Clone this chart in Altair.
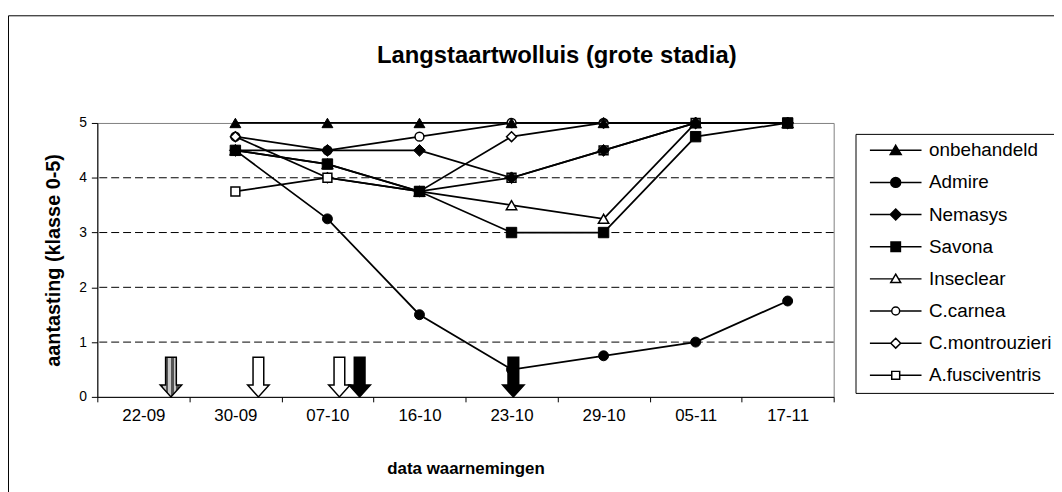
import altair as alt
import pandas as pd

# ---------------- data ----------------
dates = ["22-09", "30-09", "07-10", "16-10", "23-10", "29-10", "05-11", "17-11"]
series = ["onbehandeld", "Admire", "Nemasys", "Savona", "Inseclear",
          "C.carnea", "C.montrouzieri", "A.fusciventris"]
onbehandeld = [None, 5, 5, 5, 5, 5, 5, 5]
admire = [None, 4.5, 3.25, 1.5, 0.5, 0.75, 1.0, 1.75]
nemasys = [None, 4.5, 4.5, 4.5, 4.0, 4.5, 5, 5]
savona = [None, 4.5, 4.25, 3.75, 3.0, 3.0, 4.75, 5]
inseclear = [None, 4.5, 4.25, 3.75, 3.5, 3.25, 5, 5]
ccarnea = [None, 4.75, 4.5, 4.75, 5, 5, 5, 5]
cmontrouzieri = [None, 4.75, 4.0, 3.75, 4.75, 5, 5, 5]
afusciventris = [None, 3.75, 4.0, 3.75, 4.0, 4.5, 5, 5]
grid_values = [1, 2, 3, 4]
y_ticks = [0, 1, 2, 3, 4, 5]

# treatment arrows: observation interval, fraction within interval, kind, level
arrow_date = ["22-09", "30-09", "07-10", "07-10", "23-10"]
arrow_frac = [0.80, 0.75, 0.63, 0.85, 0.52]
arrow_kind = ["grijs", "wit", "wit", "zwart", "zwart"]
arrow_level = [0.36, 0.36, 0.36, 0.36, 0.36]

values = [onbehandeld, admire, nemasys, savona, inseclear, ccarnea, cmontrouzieri, afusciventris]

rows = []
for s, vals in zip(series, values):
    for d, v in zip(dates, vals):
        if v is not None:
            rows.append({"datum": d, "serie": s, "waarde": v})
df = pd.DataFrame(rows)

arrows = pd.DataFrame({"datum": arrow_date, "frac": arrow_frac,
                       "soort": arrow_kind, "niveau": arrow_level})

FONT = "Liberation Sans"

x_enc = alt.X("datum:N",
              scale=alt.Scale(domain=dates, type="band", paddingInner=0, paddingOuter=0),
              sort=dates,
              axis=alt.Axis(title="data waarnemingen", tickBand="extent", labelAngle=0,
                            labelFontSize=17, labelPadding=6, tickSize=5,
                            titleFontSize=17, titlePadding=37, grid=False))
y_enc = alt.Y("waarde:Q",
              scale=alt.Scale(domain=[0, 5], nice=False),
              axis=alt.Axis(title="aantasting (klasse 0-5)", values=y_ticks, tickSize=6,
                            labelFontSize=14, labelPadding=5, titleFontSize=20,
                            titlePadding=15, grid=False))

# outer frame (decoration)
frame = alt.Chart(alt.Data(values=[{}])).mark_rect(
    fillOpacity=0, stroke="black", strokeWidth=1
).encode(x=alt.value(-89.5), y=alt.value(-108), x2=alt.value(1200), y2=alt.value(600))

grid = alt.Chart(pd.DataFrame({"g": grid_values})).mark_rule(
    color="black", strokeWidth=1, strokeDash=[8, 4]
).encode(y=alt.Y("g:Q", scale=alt.Scale(domain=[0, 5], nice=False)))

lines = alt.Chart(df).mark_line(color="black", strokeWidth=1.75).encode(
    x=x_enc, y=y_enc, detail="serie:N"
)

marker_style = {
    "onbehandeld": ("triangle-up", True, 120),
    "Admire": ("circle", True, 100),
    "Nemasys": ("diamond", True, 140),
    "Savona": ("square", True, 110),
    "Inseclear": ("triangle-up", False, 110),
    "C.carnea": ("circle", False, 80),
    "C.montrouzieri": ("diamond", False, 100),
    "A.fusciventris": ("square", False, 80),
}
draw_order = ["Inseclear", "C.carnea", "C.montrouzieri", "A.fusciventris",
              "onbehandeld", "Admire", "Nemasys", "Savona"]
point_layers = []
for s in draw_order:
    shp, filled, sz = marker_style[s]
    if filled:
        mk = alt.Chart(df).mark_point(shape=shp, filled=True, fill="black", stroke="black",
                                      strokeWidth=1, size=sz, opacity=1)
    else:
        mk = alt.Chart(df).mark_point(shape=shp, filled=True, fill="white", stroke="black",
                                      strokeWidth=1.5, size=sz, opacity=1)
    point_layers.append(mk.encode(x=x_enc, y=y_enc).transform_filter(alt.datum.serie == s))

# legend (built-in) with line + marker symbols
legend_paths = [
    "M-5.2,0H5.2M0,-1L1.1,0.85L-1.1,0.85Z",
    "M-5.2,0H5.2M1,0A1,1,0,1,1,-1,0A1,1,0,1,1,1,0Z",
    "M-5.2,0H5.2M0,-1.1L1.1,0L0,1.1L-1.1,0Z",
    "M-5.2,0H5.2M-0.95,-0.95H0.95V0.95H-0.95Z",
    "M-5.2,0H-0.56M0.56,0H5.2M0,-0.95L1,0.75L-1,0.75Z",
    "M-5.2,0H-0.8M0.8,0H5.2M0.8,0A0.8,0.8,0,1,1,-0.8,0A0.8,0.8,0,1,1,0.8,0Z",
    "M-5.2,0H-1M1,0H5.2M0,-1L1,0L0,1L-1,0Z",
    "M-5.2,0H-0.8M0.8,0H5.2M-0.8,-0.8H0.8V0.8H-0.8Z",
]
legend_fills = ["black", "black", "black", "black", "white", "white", "white", "white"]
legend_strokes = ["black"] * 8
leg = alt.Legend(title=None, orient="none", legendX=764, legendY=11,
                 labelFont=FONT, labelFontSize=19, labelColor="black",
                 symbolSize=100, symbolStrokeWidth=1.5, symbolStrokeColor="black",
                 symbolOffset=24, labelOffset=24, rowPadding=12.4, padding=7,
                 strokeColor="black", fillColor="white", labelLimit=300)
legend_layer = alt.Chart(df).mark_point(filled=True, strokeWidth=1.5, opacity=1).encode(
    shape=alt.Shape("serie:N", scale=alt.Scale(domain=series, range=legend_paths), legend=leg),
    fill=alt.Fill("serie:N", scale=alt.Scale(domain=series, range=legend_fills), legend=leg),
    stroke=alt.Stroke("serie:N", scale=alt.Scale(domain=series, range=legend_strokes), legend=leg),
).transform_filter("datum.waarde > 99")

# arrows
arrow_path = "M-0.27,-1L0.27,-1L0.27,0.4L0.54,0.4L0,1L-0.54,0.4L-0.27,0.4Z"
stripes = []
n = 8
for i in range(n):
    c = "#555555" if i % 2 == 0 else "#c8c8c8"
    stripes.append({"offset": i / n, "color": c})
    stripes.append({"offset": (i + 1) / n, "color": c})
gray_fill = {"gradient": "linear", "x1": 0, "x2": 1, "y1": 0, "y2": 0, "stops": stripes}

arrow_x = alt.X("datum:N", scale=alt.Scale(domain=dates, type="band", paddingInner=0, paddingOuter=0), sort=dates)
arrow_xo = alt.XOffset("frac:Q", scale=alt.Scale(domain=[0, 1]))
arrow_y = alt.Y("niveau:Q", scale=alt.Scale(domain=[0, 5], nice=False))
arrow_layers = []
for kind, fillv in [("grijs", gray_fill), ("wit", "white"), ("zwart", "black")]:
    arrow_layers.append(
        alt.Chart(arrows).mark_point(shape=arrow_path, size=1600, filled=True, fill=fillv,
                                     stroke="black", strokeWidth=1.5, opacity=1)
        .encode(x=arrow_x, xOffset=arrow_xo, y=arrow_y)
        .transform_filter(alt.datum.soort == kind)
    )

chart = alt.layer(frame, grid, lines, *point_layers, legend_layer, *arrow_layers).properties(
    width=742, height=276,
    title=alt.TitleParams("Langstaartwolluis (grote stadia)", font=FONT, fontSize=24,
                          fontWeight="bold", anchor="middle", frame="group", dx=92,
                          baseline="alphabetic", offset=-72, color="black"),
    autosize=alt.AutoSizeParams(type="none"),
    padding={"left": 90, "top": 114, "right": 222, "bottom": 94},
).resolve_scale(shape="independent", fill="independent", stroke="independent").configure(
    font=FONT, background="white"
).configure_view(
    stroke="#808080", strokeWidth=1
).configure_axis(
    labelFont=FONT, titleFont=FONT, labelColor="black", titleColor="black",
    domainColor="black", tickColor="black", domainWidth=1, tickWidth=1,
    titleFontWeight="bold"
)

chart.save("out.html", embed_options={"renderer": "svg", "actions": False})
